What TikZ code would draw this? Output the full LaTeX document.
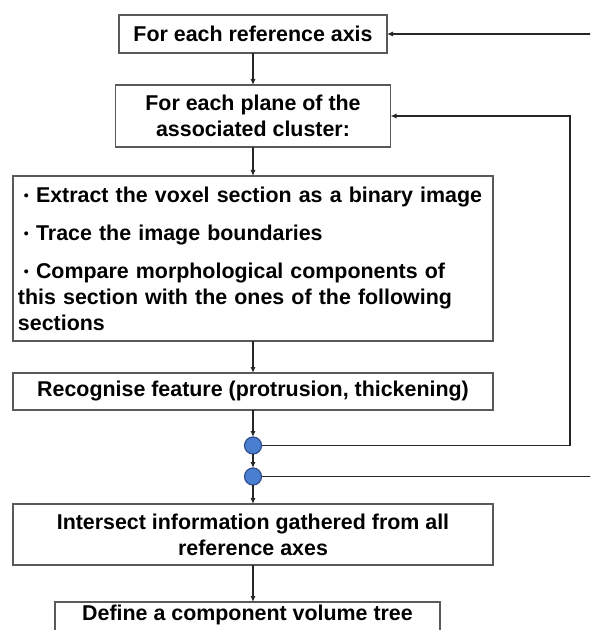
\documentclass[tikz,border=0pt]{standalone}
\usepackage{fontspec}
\setmainfont{Liberation Sans}
\usepackage{xcolor}
\usetikzlibrary{positioning,arrows.meta,calc}
\definecolor{cBoxBorder}{HTML}{5A5A5A}
\definecolor{cJoinFill}{HTML}{4A7FD0}
\definecolor{cJoinBorder}{HTML}{2F4F8F}
\newcommand{\itemdot}{\hspace*{3pt}\raisebox{0.9pt}{\fontsize{7}{7}\selectfont\textbullet}\ }

\begin{document}
\begin{tikzpicture}[
  x=0.5pt, y=-0.5pt,
  every node/.style={font=\fontsize{10.7}{13}\selectfont\bfseries, outer sep=0pt},
  stepbox/.style={draw=cBoxBorder, fill=white, line width=0.75pt,
                  minimum height=18.5pt, align=center, inner sep=1.5pt},
  joinpt/.style={circle, draw=cJoinBorder, fill=cJoinFill, line width=0.6pt,
                 minimum size=8.5pt, inner sep=0pt},
  arr/.style={-{Latex[length=3pt,width=2.6pt]}, line width=0.85pt, black!85},
]
  \clip (0,0) rectangle (590,630);

  \node[stepbox, minimum width=134pt, minimum height=19pt] (axis) at (253,34) {For each reference axis};
  \node[stepbox, minimum width=137.5pt, minimum height=31pt, below=16pt of axis] (plane)
    {For each plane of the\\associated cluster:};
  \node[stepbox, minimum width=240pt, minimum height=82.5pt, align=left, text width=235pt,
        below=14.5pt of plane] (extract)
    {\itemdot Extract the voxel section as a binary image\\[6pt]
     \itemdot Trace the image boundaries\\[6pt]
     \itemdot Compare morphological components of\\
     this section with the ones of the following\\
     sections};
  \node[stepbox, minimum width=240pt, below=16pt of extract] (feature)
    {Recognise feature (protrusion, thickening)};

  \node[joinpt, below=13.5pt of feature] (join1) {};
  \node[joinpt, below=7pt of join1] (join2) {};

  \node[stepbox, minimum width=240pt, minimum height=30.5pt, below=9.5pt of join2] (intersect)
    {Intersect information gathered from all\\reference axes};
  \node[stepbox, minimum width=192.5pt, text depth=12pt, below=18.5pt of intersect, xshift=-2.75pt] (tree)
    {Define a component volume tree};

  % return lines
  \coordinate (innerx) at (570,0);
  \coordinate (outerx) at (605,0);

  \draw[arr] (axis) -- (plane);
  \draw[arr] (plane) -- (extract);
  \draw[arr] (extract) -- (feature);
  \draw[arr] (feature) -- (join1);
  \draw[arr] (join1) -- (join2);
  \draw[arr] (join2) -- (intersect);
  \draw[arr] (intersect.south) -- (intersect.south |- tree.north);
  \draw[arr] (join1.east) -- (join1.east -| innerx) |- (plane.east);
  \draw[arr] (join2.east) -- (join2.east -| outerx) |- (axis.east);
\end{tikzpicture}
\end{document}
